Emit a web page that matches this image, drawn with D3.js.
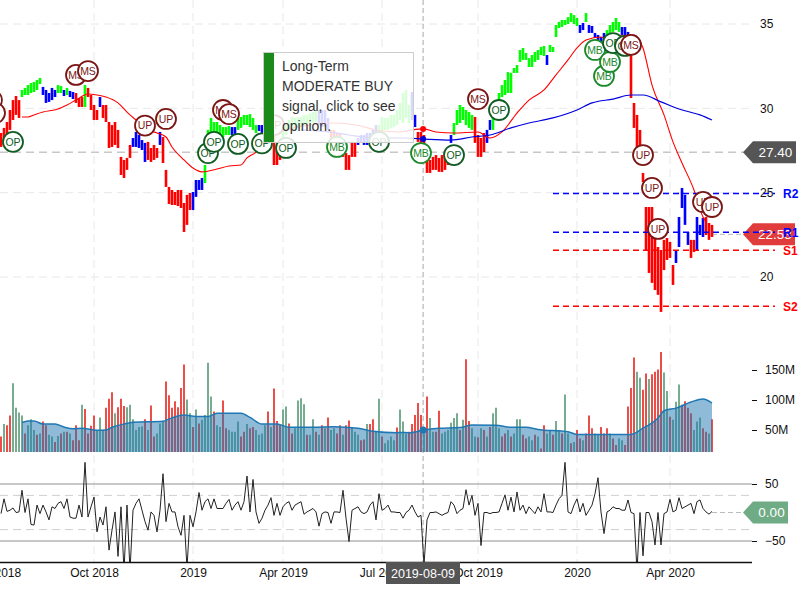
<!DOCTYPE html>
<html><head><meta charset="utf-8">
<script src="https://cdn.jsdelivr.net/npm/d3@7"></script>
<style>
html,body{margin:0;padding:0;background:#fff;overflow:hidden}
svg{display:block}
text{font-family:"Liberation Sans",Arial,sans-serif}
</style></head><body>
<svg id="c" width="800" height="600"></svg>
<script>
// x positions are session indexes; each entry is one plotted session
const tickSessions=[-1,31,64,94,127,159,192,223];
const tickLabels=["Jul 2018","Oct 2018","2019","Apr 2019","Jul 2019","Oct 2019","2020","Apr 2020"];
const priceTicks=[20,25,30,35];
const volumeTicks=[50,100,150];
const oscTicks=[-50,50];

const highs=[
28.54,28.84,29.19,29.90,30.49,30.73,30.49,31.09,31.21,31.38,
31.50,31.56,31.68,31.80,31.27,31.09,30.91,31.21,31.09,31.38,
31.32,31.09,31.21,31.03,30.97,30.91,30.61,30.67,31.38,31.21,
30.79,30.20,29.90,30.67,30.20,30.20,29.19,29.01,29.19,28.72,
27.12,26.94,27.06,27.83,28.24,28.60,28.42,28.12,27.95,28.01,
27.65,27.83,27.65,28.60,28.30,26.35,25.34,25.16,25.04,25.16,
25.16,24.39,24.87,24.98,25.04,25.75,25.75,25.87,26.64,28.72,
29.43,29.19,29.19,29.01,28.89,28.89,28.95,28.89,28.89,29.43,
29.49,29.61,29.61,29.66,29.43,29.01,29.01,29.01,29.31,29.61,
30.08,28.72,27.53,27.83,28.72,29.01,29.31,29.49,29.43,29.49,
29.49,29.61,29.61,29.72,29.78,29.90,29.90,29.90,29.90,29.43,
28.72,28.72,28.54,28.54,28.12,27.35,27.23,27.95,27.95,28.24,
28.42,28.42,28.54,28.54,28.72,29.01,29.01,29.49,29.43,29.43,
29.61,29.61,29.90,30.32,30.91,31.09,30.20,30.97,29.61,28.60,
28.60,28.42,27.12,26.94,27.12,27.23,27.06,27.23,27.12,27.53,
28.42,29.13,29.90,30.20,30.08,29.90,29.78,29.61,29.49,28.42,
28.24,28.54,28.72,29.31,29.90,30.32,30.91,31.38,31.68,32.15,
32.10,32.39,32.57,33.46,33.58,33.28,32.98,33.16,33.34,33.46,
33.64,33.70,33.16,33.76,33.64,34.94,35.12,35.24,35.24,35.41,
35.65,35.53,35.36,34.94,35.06,35.65,34.94,34.88,34.47,34.35,
34.23,34.47,34.64,34.94,35.12,35.36,35.12,34.82,34.82,34.53,
33.16,30.32,29.61,28.72,26.17,24.15,24.15,24.15,22.37,21.78,
21.60,22.20,22.31,22.08,20.71,21.60,23.56,25.28,24.87,22.67,
22.20,22.20,23.56,23.09,23.50,23.56,23.20,23.09];
const lows=[
27.71,27.83,28.30,28.72,29.31,29.61,29.43,30.67,30.79,30.79,
30.91,30.97,31.09,31.44,30.79,30.32,30.38,30.49,30.67,30.91,
30.91,30.73,30.79,30.67,30.55,30.32,30.08,30.08,30.08,30.67,
29.90,29.31,29.31,30.08,29.43,29.19,27.65,27.71,27.83,27.65,
26.05,25.87,26.35,27.06,27.71,27.71,27.65,27.53,26.82,26.94,
26.82,26.94,27.06,27.83,26.76,25.34,24.33,24.27,24.27,24.21,
24.09,22.67,23.09,23.97,23.97,24.75,25.16,25.16,25.57,27.53,
28.12,28.42,28.42,28.12,28.30,28.42,28.42,28.42,28.48,28.72,
28.84,29.01,29.01,28.89,28.72,28.54,28.66,28.54,28.66,28.84,
28.54,26.64,26.64,26.94,27.83,28.42,28.72,28.72,28.72,28.84,
28.89,29.01,29.01,29.01,29.13,29.19,29.01,28.89,28.89,28.72,
28.01,28.01,27.83,27.53,27.12,26.35,26.35,27.12,27.12,27.83,
27.95,27.83,27.83,27.95,28.12,28.12,28.42,28.54,28.72,28.72,
28.84,28.89,29.01,29.31,29.13,29.43,29.13,29.31,28.89,28.01,
27.65,27.35,26.17,26.17,26.35,26.35,26.23,26.23,26.35,26.64,
27.95,28.42,29.01,29.13,29.31,29.01,28.84,28.72,27.95,27.12,
27.12,27.41,27.95,28.72,28.72,29.43,30.08,30.67,30.79,30.91,
30.91,32.10,32.10,32.75,32.87,32.87,32.45,32.45,32.75,32.87,
33.16,33.10,32.57,33.34,33.34,34.23,34.76,34.82,34.94,35.00,
35.12,35.00,34.88,34.47,34.64,35.12,34.47,34.47,34.17,34.05,
33.93,34.05,34.17,34.47,34.53,34.64,34.53,34.35,34.23,34.05,
30.61,28.84,27.65,27.12,25.63,21.60,20.24,19.65,19.23,18.94,
17.93,20.41,21.01,21.13,19.53,20.83,21.78,24.09,23.09,21.90,
21.13,21.48,21.60,22.49,22.37,22.49,22.20,22.37];
// r = falling, b = neutral, g = rising, ten sessions per group
const priceSignal=[
"rrrrrrrggg","ggggbbbbbg","gbgbbrrrgr","rrrbrrrrrr","rrrrbbbbbr",
"rrrbrrrrrr","rrrrbbbbgg","gggggggbbg","ggggggbbgg","grrrgggggg",
"ggggggbbbb","rrrrrrrrrb","bbbbbbgggg","gggggggbbr","rrrrrrrrrr",
"bgggggggrr","rrbbgggggg","gggggggggg","ggbggggggg","gggbbgbbbb",
"bbgggggbbb","rrrrrrrrrr","rrrrrbbbbb","rrbbbrrr"].join("");

const ma50Sessions=[7,9,11,14,19,22,25,29,32,35,39,42,45,49,52,55,57,61,64,67,72,76,80,82,85,88,95,103,111,120,125,133,137,141,145,151,159,163,167,172,176,181,185,189,192,195,200,203,206,211,214,217,221,224,227,231,234,235];
const ma50Values=[29.49,29.49,29.61,29.78,29.96,30.20,30.49,30.85,30.79,30.67,30.32,29.78,29.31,28.72,28.54,28.30,27.71,26.94,26.46,26.23,26.40,26.58,26.64,27.06,27.41,28.12,28.72,29.01,29.13,28.95,28.72,28.60,28.72,28.78,28.60,28.54,28.60,28.24,28.60,29.72,30.49,31.09,31.98,32.87,33.58,34.05,34.23,34.05,34.29,34.35,33.58,31.38,29.61,28.01,26.76,25.16,23.56,23.27];
const ma200Sessions=[100,109,116,125,135,141,150,157,163,170,176,184,192,197,204,210,214,220,226,233,237];
const ma200Values=[28.72,28.60,28.42,28.24,28.24,28.18,28.12,28.30,28.42,28.84,29.13,29.43,29.90,30.32,30.55,30.79,30.79,30.38,29.96,29.61,29.31];

const volumes=[
39,60,58,74,128,87,79,74,44,58,68,50,42,44,64,58,42,39,30,40,
44,47,47,44,33,58,33,92,85,44,57,74,50,71,50,87,102,113,78,88,
102,90,88,92,68,50,55,56,68,50,91,39,44,61,64,131,108,87,98,88,
120,159,101,78,55,84,61,67,75,162,106,81,58,55,99,53,50,47,47,64,
39,47,60,53,55,50,42,44,58,81,55,119,65,58,84,89,61,44,53,99,
103,93,42,42,68,47,42,58,53,71,50,53,44,58,42,58,66,55,47,42,
33,34,60,60,68,47,102,39,28,33,39,33,54,84,64,44,47,60,75,95,
75,50,106,70,47,47,82,44,47,50,62,70,78,50,67,168,65,53,39,38,
53,50,39,55,78,87,53,39,44,50,39,44,68,68,42,36,39,33,42,39,
19,58,44,50,42,65,50,44,109,44,28,30,50,36,33,44,74,53,44,42,
55,44,53,44,36,25,36,33,25,89,120,171,147,137,117,144,135,143,147,151,
180,146,115,72,67,97,126,92,98,87,78,50,64,71,53,47,44,68];
const volumeSignal=[
"rgrrggggrg","ggrgrrggrg","rgrgrrrgrr","rrgggrrrgr","rrggggggrg",
"rrgggrrrrr","rrggrgrggg","grggrrgggg","rrgrrggggr","grrrggrrgg",
"ggrggrgrgr","ggrrgrrggg","rrgrrggrgg","ggrgggrrrr","rgrggrrggg",
"gggrgrrggr","grgrgggrrg","rgggrrggrg","rrggrggrgg","rgrrgrrrgg",
"rrrgrrggrr","rrggrrgrrr","rggrgggrrr","rgggrrgr"].join("");
const volumeAvgSessions=[7,9,11,14,18,21,24,27,32,35,37,41,44,54,56,61,65,69,72,80,83,87,92,96,104,111,119,124,132,133,136,141,146,153,157,165,170,175,179,189,192,204,210,214,219,221,225,230,234,237];
const volumeAvgValues=[62.4,65,65,60,60,55,52,53,49.5,50,54.5,60,63,64.6,68.5,75,72.5,72.5,78,78,71,60,60,54.5,54.5,55.6,53,48,45.5,46,45.5,50,53,54,58.4,58,54.5,54.5,51,47,42.7,42.7,42.7,53,70,82,86.5,96.6,101.7,95];

const oscillator=[
-2,24,2,4,8,0,1,39,0,24,-21,-22,13,-2,13,1,-13,10,7,16,
19,7,24,-8,-10,-10,13,-8,88,-8,10,27,-34,-8,-22,10,-66,-31,1,-77,
10,-103,13,-103,4,16,24,4,-16,-31,1,-5,-34,4,68,-16,16,1,1,-25,
-40,-5,-98,-5,-25,1,35,4,19,24,7,24,7,7,7,16,23,4,13,19,
4,19,64,1,58,1,-19,-10,4,13,26,-5,16,-5,10,16,19,4,13,16,
19,-3,1,4,7,1,-24,-2,1,0,-19,1,1,0,39,-10,-51,4,7,10,
1,-2,1,13,19,-13,33,4,7,13,1,1,0,0,-10,0,4,13,1,-8,
-5,-92,-13,0,0,1,-2,-5,-2,0,19,13,-2,4,7,40,13,30,-5,16,
-58,0,0,-2,0,0,1,16,31,4,27,1,36,4,13,-2,10,4,-2,10,
1,33,1,1,0,13,24,30,88,1,-2,13,24,1,16,-5,4,13,33,61,
1,-37,1,4,10,7,7,4,4,22,0,-2,-103,0,-76,0,0,-16,-57,0,
-57,-2,1,23,1,4,26,7,10,13,16,-2,19,22,7,1,-3,2];

const levelLabels=["R2","R1","S1","S2"];
const levelValues=[24.95,22.65,21.58,18.26];
const levelSides=["b","b","r","r"];

const markerLabels=["","","OP","MS","MS","UP","UP","OP","OP","MS","MS","OP","OP","UP","OP","MB","OP","MB","OP","MS","OP","MB","MB","MB","OP","OP","MS","UP","UP","UP","UP","UP"];
const markerSessions=[-3,-2,4,25,29,48,55,69,71,74,76,79,87,91,95,112,126,140,151,159,166,198,201,203,204,208,210,214,217,219,234,237];
const markerPrices=[30.49,29.72,28.01,31.98,32.21,28.98,29.37,27.35,28.01,29.90,29.66,27.89,27.92,29.01,27.65,27.71,28.01,27.35,27.23,30.55,29.90,33.46,31.92,32.75,33.87,33.70,33.76,27.23,25.28,22.85,24.45,24.15];

const hoverSession=140.7, hoverDate="2019-08-09", hoverPrice=27.40;
const hoverMa50=28.78, hoverMa200=28.18, hoverVolume=50;
const lastPrice=22.53, lastOsc=0;
const tooltipLines=["Long-Term","MODERATE BUY","signal, click to see","opinion."];

const svg=d3.select("#c");
const x=d3.scaleLinear().domain([0,237]).range([1,712]);
const yP=d3.scaleLinear().domain([20,35]).range([277,24]);
const yV=d3.scaleLinear().domain([50,150]).range([430,370]);
const yO=d3.scaleLinear().domain([-50,50]).range([541,484]);
const volBottom=452, plotRight=752, axisY=562.5;
const col={r:"#ff0000",b:"#0000ff",g:"#00ff00"};

svg.append("clipPath").attr("id","oc").append("rect").attr("x",0).attr("y",455).attr("width",800).attr("height",axisY-455);

// grid
const grid=svg.append("g").attr("stroke","#e8e8e8").attr("stroke-width",1).attr("stroke-dasharray","8,5");
grid.selectAll(".v").data(tickSessions).join("line").attr("x1",x).attr("x2",x).attr("y1",0).attr("y2",axisY);
grid.selectAll(".h").data(priceTicks).enter().append("line").attr("x1",0).attr("x2",plotRight).attr("y1",yP).attr("y2",yP);

// oscillator guides
const g3=svg.append("g");
g3.selectAll(".s").data(oscTicks).enter().append("line").attr("x1",0).attr("x2",plotRight).attr("y1",yO).attr("y2",yO).attr("stroke","#b4b4b4").attr("stroke-width",1.6);
g3.selectAll(".d").data([-30,30]).enter().append("line").attr("x1",0).attr("x2",plotRight).attr("y1",yO).attr("y2",yO).attr("stroke","#cfcfcf").attr("stroke-dasharray","8,5");

// crosshair
svg.append("line").attr("x1",x(hoverSession)).attr("x2",x(hoverSession)).attr("y1",0).attr("y2",axisY).attr("stroke","#a8a8a8").attr("stroke-dasharray","5,3");
svg.append("line").attr("x1",0).attr("x2",745).attr("y1",yP(hoverPrice)).attr("y2",yP(hoverPrice)).attr("stroke","#c8c8c8").attr("stroke-width",1.5).attr("stroke-dasharray","8,5");
svg.append("line").attr("x1",x(237)).attr("x2",745).attr("y1",yP(lastPrice)).attr("y2",yP(lastPrice)).attr("stroke","#bbb").attr("stroke-dasharray","5,3");
svg.append("line").attr("x1",x(237)).attr("x2",745).attr("y1",yO(lastOsc)).attr("y2",yO(lastOsc)).attr("stroke","#bbb").attr("stroke-dasharray","5,3");

// price bars
svg.append("g").selectAll("line").data(highs).join("line")
 .attr("x1",(d,i)=>x(i)).attr("x2",(d,i)=>x(i))
 .attr("y1",d=>yP(d)).attr("y2",(d,i)=>yP(lows[i]))
 .attr("stroke",(d,i)=>col[priceSignal[i]]).attr("stroke-width",2.6);

// moving averages
const lineOf=(xs,ys)=>d3.line().x((d,i)=>x(xs[i])).y(d=>yP(d)).curve(d3.curveMonotoneX)(ys);
svg.append("path").attr("d",lineOf(ma50Sessions,ma50Values)).attr("fill","none").attr("stroke","#ff0000").attr("stroke-width",1.1);
svg.append("path").attr("d",lineOf(ma200Sessions,ma200Values)).attr("fill","none").attr("stroke","#0000dd").attr("stroke-width",1.2);

// tags
const tag=(yc,right,fill,label)=>{
 const g=svg.append("g");
 g.append("path").attr("d",`M743,${yc}L753,${yc-11}H${right}V${yc+11}H753Z`).attr("fill",fill);
 g.append("text").attr("x",(755+right)/2).attr("y",yc).attr("dy",".36em").attr("text-anchor","middle").attr("fill","#fff").attr("font-size",13.5).text(label);
};
tag(yP(hoverPrice),796,"#555555",hoverPrice.toFixed(2));
tag(yP(lastPrice),795,"#e03c3c",lastPrice.toFixed(2));
tag(yO(lastOsc),788,"#6fab84",lastOsc.toFixed(2));

// levels
svg.append("g").selectAll("line").data(levelValues).join("line").attr("x1",553).attr("x2",775).attr("y1",yP).attr("y2",yP)
 .attr("stroke",(d,i)=>levelSides[i]=="b"?"#0000ff":"#ff0000").attr("stroke-width",1.5).attr("stroke-dasharray","6,4");
svg.append("g").selectAll("text").data(levelLabels).join("text").attr("x",783).attr("y",(d,i)=>yP(levelValues[i])).attr("dy",".36em")
 .attr("font-size",12).attr("font-weight","bold").attr("fill",(d,i)=>levelSides[i]=="b"?"#0000ff":"#ff0000").text(d=>d);

// volume
svg.append("g").selectAll("line").data(volumes).join("line")
 .attr("x1",(d,i)=>x(i)).attr("x2",(d,i)=>x(i)).attr("y1",d=>yV(d)).attr("y2",volBottom)
 .attr("stroke",(d,i)=>volumeSignal[i]=="r"?"#e8302a":"#5f9e7c").attr("stroke-width",1.7);
const area=d3.area().x((d,i)=>x(volumeAvgSessions[i])).y0(volBottom).y1(d=>yV(d)).curve(d3.curveMonotoneX);
svg.append("path").attr("d",area(volumeAvgValues)).attr("fill","#1f77b4").attr("fill-opacity",.5);
svg.append("path").attr("d",area.lineY1()(volumeAvgValues)).attr("fill","none").attr("stroke","#1f77b4").attr("stroke-width",1.5);
svg.append("circle").attr("cx",x(hoverSession)).attr("cy",yV(hoverVolume)).attr("r",3.5).attr("fill","#1f77b4");

// oscillator
svg.append("path").attr("clip-path","url(#oc)").attr("d",d3.line().x((d,i)=>x(i)).y(d=>yO(d))(oscillator)).attr("fill","none").attr("stroke","#222").attr("stroke-width",1);

// axes
const styleAxis=g=>{g.selectAll("text").attr("font-size",12).attr("fill","#111").attr("font-family",'"Liberation Sans",Arial,sans-serif');g.select(".domain").remove();};
svg.append("g").attr("transform","translate(758,0)").call(d3.axisRight(yP).tickValues(priceTicks).tickSize(0).tickPadding(2)).call(styleAxis);
svg.append("g").attr("transform","translate(752,0)").call(d3.axisRight(yV).tickValues(volumeTicks).tickSize(5).tickPadding(8).tickFormat(d=>d+"M")).call(styleAxis).selectAll("line").attr("stroke","#111");
svg.append("g").attr("transform","translate(752,0)").call(d3.axisRight(yO).tickValues(oscTicks).tickSize(5).tickPadding(8)).call(styleAxis).selectAll("line").attr("stroke","#111");
const xa=svg.append("g").attr("transform",`translate(0,${axisY})`).call(d3.axisBottom(x).tickValues(tickSessions).tickSize(0).tickPadding(6).tickFormat((d,i)=>tickLabels[i]));
xa.selectAll("text").attr("font-size",12).attr("fill","#111").attr("font-family",'"Liberation Sans",Arial,sans-serif');
xa.select(".domain").remove();
svg.append("line").attr("x1",0).attr("x2",plotRight).attr("y1",axisY).attr("y2",axisY).attr("stroke","#111").attr("stroke-width",1.3);

// signal markers
const mk={OP:"#125c24",MB:"#1c8a2c",UP:"#7a1616",MS:"#7a1616","":"#7a1616"};
const m=svg.append("g").selectAll("g").data(markerLabels).join("g").attr("transform",(d,i)=>`translate(${x(markerSessions[i])},${yP(markerPrices[i])})`);
m.append("circle").attr("r",10).attr("fill","#fff").attr("stroke",d=>mk[d]).attr("stroke-width",1.8);
m.append("text").attr("text-anchor","middle").attr("dy",".36em").attr("font-size",10.5).attr("fill",d=>mk[d]).text(d=>d);

// hover dots
svg.append("circle").attr("cx",x(hoverSession)).attr("cy",yP(hoverMa50)).attr("r",3).attr("fill","#f00");
svg.append("circle").attr("cx",x(hoverSession)).attr("cy",yP(hoverMa200)).attr("r",3).attr("fill","#00d");

// date label
const dg=svg.append("g");
dg.append("rect").attr("x",386).attr("y",562).attr("width",74).attr("height",22).attr("fill","#555");
dg.append("text").attr("x",423).attr("y",573).attr("dy",".36em").attr("text-anchor","middle").attr("fill","#fff").attr("font-size",12.5).text(hoverDate);

// tooltip
const tp=svg.append("g");
tp.append("rect").attr("x",263.5).attr("y",52.5).attr("width",150).attr("height",90).attr("fill","#fff").attr("fill-opacity",.85).attr("stroke","#ccc");
tp.append("rect").attr("x",264).attr("y",53).attr("width",10).attr("height",89).attr("fill","#1a8a1a");
tp.selectAll("text").data(tooltipLines).join("text").attr("x",282).attr("y",(d,i)=>66+20*i).attr("dy",".36em").attr("font-size",14).attr("fill","#333").text(d=>d);
</script>
</body></html>
